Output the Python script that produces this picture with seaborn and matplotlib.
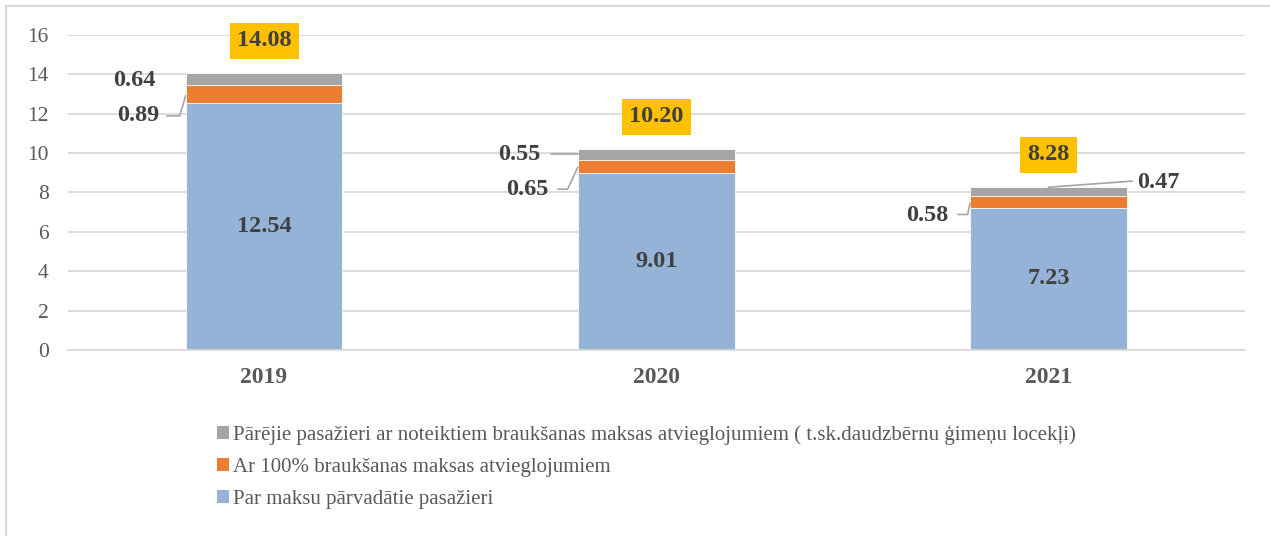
import numpy as np
import pandas as pd
import matplotlib.pyplot as plt
import seaborn as sns
from matplotlib.patches import Patch, Rectangle

years = ['2019', '2020', '2021']
paid = [12.54, 9.01, 7.23]
free = [0.89, 0.65, 0.58]
other = [0.64, 0.55, 0.47]
totals = ['14.08', '10.20', '8.28']

labels = ['Pārējie pasažieri ar noteiktiem braukšanas maksas atvieglojumiem ( t.sk.daudzbērnu ģimeņu locekļi)',
          'Ar 100% braukšanas maksas atvieglojumiem',
          'Par maksu pārvadātie pasažieri']
colors = ['#A5A5A5', '#ED7D31', '#95B3D7']

sns.set_theme(style='white')
plt.rcParams['font.family'] = ['Liberation Serif', 'DejaVu Serif']

df = pd.DataFrame({'year': years, 'paid': paid, 'free': free, 'other': other})
df['lvl1'] = df['paid']
df['lvl2'] = df['paid'] + df['free']
df['lvl3'] = df['lvl2'] + df['other']

fig = plt.figure(figsize=(12.7, 5.36), dpi=100)
ax = fig.add_axes([0.0535, 0.347, 0.9265, 0.588])

# stacked bars: draw the tallest first, then cover
for col, c in zip(['lvl3', 'lvl2', 'lvl1'], colors):
    sns.barplot(data=df, x='year', y=col, color=c, width=0.4, saturation=1,
                edgecolor='white', linewidth=0.6, ax=ax)

ax.set_xlim(-0.5, 2.5)
ax.set_ylim(0, 16)
ax.set_yticks(np.arange(0, 17, 2))
ax.set_xlabel('')
ax.set_ylabel('')
ax.yaxis.grid(True, color='#D9D9D9', linewidth=1.3)
ax.set_axisbelow(True)
for s in ['left', 'right', 'top']:
    ax.spines[s].set_visible(False)
ax.spines['bottom'].set_color('#D9D9D9')
ax.spines['bottom'].set_linewidth(1.3)
ax.tick_params(axis='y', labelsize=15.5, labelcolor='#595959', length=0, pad=14)
ax.tick_params(axis='x', labelsize=17, labelcolor='#595959', length=0, pad=12)
for t in ax.get_xticklabels():
    t.set_fontweight('bold')

lab = dict(fontsize=17.5, fontweight='bold', color='#404040')
lc = '#A5A5A5'
half = 0.2
for i in range(len(years)):
    b1, b2, b3 = df.loc[i, 'lvl1'], df.loc[i, 'lvl2'], df.loc[i, 'lvl3']
    ax.text(i, b1 / 2, f'{paid[i]:.2f}', ha='center', va='center', **lab)
    ax.text(i, b3 + 1.62, totals[i], ha='center', va='center',
            bbox=dict(boxstyle='square,pad=0.3', fc='#FFC000', ec='none'), **lab)

# 2019 labels
e = 0 - half
m2 = (paid[0] + df.loc[0, 'lvl2']) / 2
m3 = (df.loc[0, 'lvl2'] + df.loc[0, 'lvl3']) / 2
ax.text(e - 0.077, m3 - 0.05, f'{other[0]:.2f}', ha='right', va='center', **lab)
ax.text(e - 0.068, m2 - 1.1, f'{free[0]:.2f}', ha='right', va='center', **lab)
ax.plot([e - 0.048, e - 0.015, e], [m2 - 1.1, m2 - 1.1, m2 - 0.08], color=lc, lw=1.2, clip_on=False)

# 2020 labels
e = 1 - half
m2 = (paid[1] + df.loc[1, 'lvl2']) / 2
m3 = (df.loc[1, 'lvl2'] + df.loc[1, 'lvl3']) / 2
ax.text(e - 0.094, m3, f'{other[1]:.2f}', ha='right', va='center', **lab)
ax.plot([e - 0.069, e], [m3, m3], color=lc, lw=1.2)
ax.text(e - 0.074, m2 - 1.17, f'{free[1]:.2f}', ha='right', va='center', **lab)
ax.plot([e - 0.051, e - 0.026, e], [m2 - 1.17, m2 - 1.17, m2 - 0.05], color=lc, lw=1.2)

# 2021 labels
e = 2 - half
m2 = (paid[2] + df.loc[2, 'lvl2']) / 2
m3 = (df.loc[2, 'lvl2'] + df.loc[2, 'lvl3']) / 2
ax.text(e - 0.054, m2 - 0.7, f'{free[2]:.2f}', ha='right', va='center', **lab)
ax.plot([e - 0.031, e - 0.006, e], [m2 - 0.64, m2 - 0.64, m2 - 0.06], color=lc, lw=1.2)
ax.text(2 + half + 0.026, m3 + 0.44, f'{other[2]:.2f}', ha='left', va='center', **lab)
ax.plot([2, 2 + half + 0.014], [m3 + 0.22, m3 + 0.53], color=lc, lw=1.2)

handles = [Patch(facecolor=c, edgecolor='none') for c in colors]
fig.legend(handles, labels, loc='upper left', bbox_to_anchor=(0.171, 0.207),
           frameon=False, fontsize=15, labelcolor='#595959',
           handlelength=0.55, handleheight=0.55, handletextpad=0.2,
           labelspacing=0.62, borderaxespad=0, borderpad=0)

fig.patches.append(Rectangle((6 / 1270, -0.1), 1.2, 1 - 6 / 536 + 0.1,
                             transform=fig.transFigure, fill=False,
                             edgecolor='#D9D9D9', linewidth=1.5))

fig.savefig('out.png', dpi=100)
